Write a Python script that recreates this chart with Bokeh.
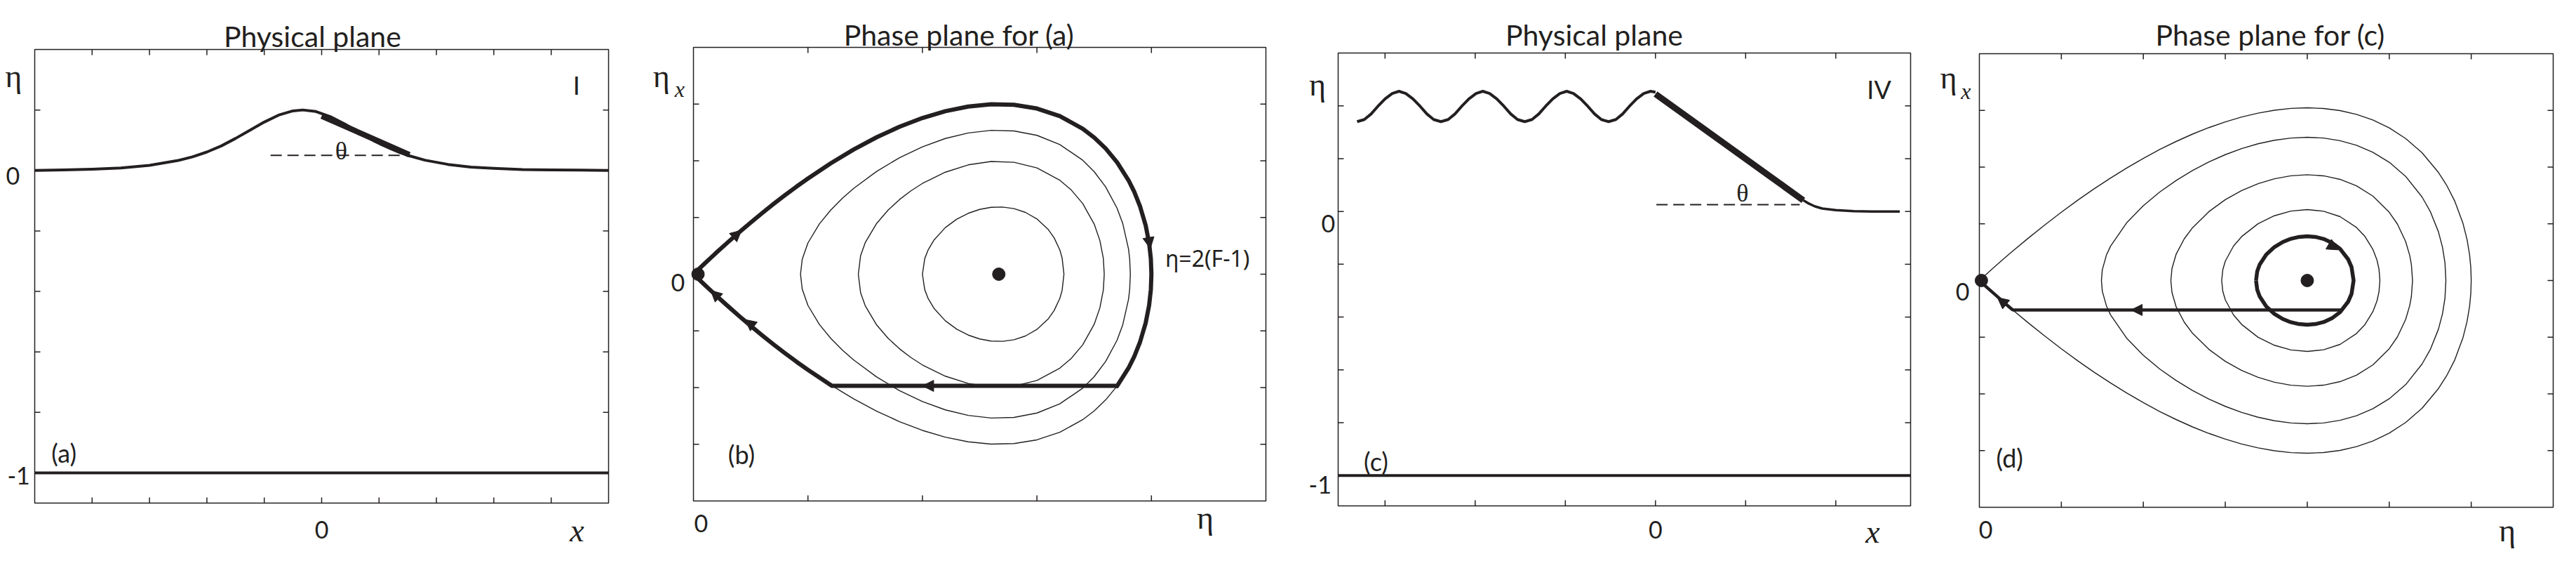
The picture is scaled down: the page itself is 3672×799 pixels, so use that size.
from bokeh.plotting import figure
from bokeh.layouts import row
from bokeh.models import Label, Arrow, NormalHead, Range1d
from bokeh.embed import file_html
from bokeh.resources import INLINE

INK = "#231f20"
SANS = "Lato"
SERIF = "Liberation Serif"

# ---------------- data ----------------
# (a) solitary wave in the physical plane
wave_a_x = [-5.0, -4.5, -4.0, -3.5, -3.0, -2.5, -2.25, -2.0, -1.75, -1.5, -1.25, -1.0, -0.75, -0.5,
            -0.33, -0.1, 0.15, 0.4, 0.65, 0.9, 1.05, 1.2, 1.35, 1.5, 1.8, 2.2, 2.6, 3.0, 3.5, 4.0, 4.5, 5.0]
wave_a_y = [0.0, 0.002, 0.004, 0.008, 0.017, 0.033, 0.045, 0.061, 0.081, 0.106, 0.133, 0.160, 0.183, 0.197,
            0.200, 0.195, 0.178, 0.154, 0.126, 0.099, 0.085, 0.072, 0.060, 0.050, 0.034, 0.020, 0.011, 0.007,
            0.003, 0.002, 0.001, 0.0]
slope_a_x = [0.0, 1.53]
slope_a_y = [0.180, 0.052]
level_a_x = [-0.89, 1.53]
level_a_y = [0.05, 0.05]
bed_a_x = [-5.0, 5.0]
bed_a_y = [-1.0, -1.0]

# (c) undular bore in the physical plane
wave_c_x = [-3.31, -3.23, -3.155, -3.08, -3.0, -2.92, -2.845, -2.77, -2.69, -2.61, -2.535, -2.46,
            -2.38, -2.30, -2.225, -2.15, -2.07, -1.99, -1.915, -1.84, -1.76, -1.68, -1.605, -1.53,
            -1.45, -1.37, -1.295, -1.22, -1.14, -1.06, -0.985, -0.91, -0.83, -0.75, -0.675, -0.60,
            -0.52, -0.44, -0.365, -0.29, -0.21, -0.13, -0.055, 0.0]
wave_c_y = [0.340, 0.348, 0.369, 0.398, 0.426, 0.447, 0.455, 0.447, 0.426, 0.398, 0.369, 0.348,
            0.340, 0.348, 0.369, 0.398, 0.426, 0.447, 0.455, 0.447, 0.426, 0.398, 0.369, 0.348,
            0.340, 0.348, 0.369, 0.398, 0.426, 0.447, 0.455, 0.447, 0.426, 0.398, 0.369, 0.348,
            0.340, 0.348, 0.369, 0.398, 0.426, 0.447, 0.455, 0.452]
slope_c_x = [0.0, 1.64]
slope_c_y = [0.445, 0.042]
front_c_x = [1.64, 1.70, 1.77, 1.85, 2.0, 2.2, 2.4, 2.71]
front_c_y = [0.042, 0.030, 0.019, 0.011, 0.005, 0.001, 0.0, 0.0]
level_c_x = [0.01, 1.60]
level_c_y = [0.026, 0.026]
bed_c_x = [-3.52, 2.83]
bed_c_y = [-1.0, -1.0]

# (b) phase plane for (a): upper halves of the orbits (eta, eta_x >= 0)
sep_b_x = [0.0, 0.1, 0.2, 0.3, 0.4, 0.5, 0.6, 0.7, 0.8, 0.9, 1.0, 1.2, 1.4, 1.6, 1.8, 2.0, 2.2, 2.4,
           2.6, 2.8, 3.0, 3.2, 3.4, 3.5, 3.6, 3.7, 3.8, 3.85, 3.9, 3.95, 3.98, 3.995, 4.0]
sep_b_y = [0.0, 0.192, 0.380, 0.562, 0.739, 0.911, 1.078, 1.239, 1.394, 1.544, 1.687, 1.956, 2.199,
           2.415, 2.601, 2.755, 2.875, 2.957, 2.997, 2.988, 2.922, 2.788, 2.566, 2.411, 2.218, 1.974,
           1.656, 1.453, 1.201, 0.860, 0.548, 0.275, 0.0]
orb_b1_x = [2.0, 2.02, 2.05, 2.1, 2.2, 2.3, 2.4, 2.5, 2.6, 2.7, 2.8, 2.9, 3.0, 3.1, 3.15, 3.2, 3.22, 3.236]
orb_b1_y = [0.0, 0.274, 0.430, 0.600, 0.822, 0.971, 1.074, 1.142, 1.179, 1.184, 1.156, 1.090, 0.974,
            0.785, 0.642, 0.427, 0.287, 0.0]
orb_b2_x = [1.44, 1.46, 1.5, 1.6, 1.7, 1.8, 1.9, 2.0, 2.2, 2.4, 2.6, 2.8, 3.0, 3.2, 3.3, 3.4, 3.5,
            3.55, 3.58, 3.588]
orb_b2_y = [0.0, 0.329, 0.555, 0.895, 1.131, 1.317, 1.471, 1.601, 1.799, 1.928, 1.988, 1.974, 1.874,
            1.657, 1.485, 1.246, 0.885, 0.593, 0.281, 0.0]
orb_b3_x = [0.935, 0.95, 1.0, 1.1, 1.2, 1.3, 1.4, 1.6, 1.8, 2.0, 2.2, 2.4, 2.6, 2.8, 3.0, 3.2, 3.4,
            3.5, 3.6, 3.7, 3.75, 3.8, 3.81, 3.816]
orb_b3_y = [0.0, 0.263, 0.551, 0.887, 1.133, 1.337, 1.514, 1.813, 2.055, 2.247, 2.393, 2.491, 2.537,
            2.527, 2.449, 2.287, 2.010, 1.808, 1.541, 1.164, 0.891, 0.444, 0.272, 0.0]
jump_b_x = [3.70, 1.21]
jump_b_y = [-1.97, -1.97]
fixed_b_x = [0.04, 2.667]
fixed_b_y = [0.0, 0.0]
arrow_b_x0 = [0.30, 3.970, 2.20, 0.25, 0.55]
arrow_b_y0 = [0.562, 0.70, -1.97, -0.47, -0.96]
arrow_b_x1 = [0.42, 3.990, 2.00, 0.15, 0.45]
arrow_b_y1 = [0.775, 0.45, -1.97, -0.285, -0.80]

# (d) phase plane for (c): upper halves of the orbits
sep_d_x = [0.0, 0.1, 0.2, 0.3, 0.4, 0.6, 0.8, 1.0, 1.2, 1.4, 1.6, 1.8, 2.0, 2.2, 2.4, 2.6, 2.8, 3.0,
           3.2, 3.4, 3.6, 3.8, 4.0, 4.2, 4.4, 4.6, 4.8, 5.0, 5.2, 5.4, 5.6, 5.7, 5.8, 5.9, 5.95, 5.98,
           5.995, 6.0]
sep_d_y = [0.0, 0.131, 0.259, 0.386, 0.510, 0.751, 0.982, 1.204, 1.416, 1.617, 1.807, 1.987, 2.154,
           2.310, 2.452, 2.582, 2.697, 2.798, 2.884, 2.952, 3.003, 3.035, 3.046, 3.034, 2.997, 2.931,
           2.832, 2.693, 2.505, 2.253, 1.907, 1.681, 1.397, 1.005, 0.717, 0.455, 0.228, 0.0]
orb_d1_x = [1.489, 1.5, 1.55, 1.6, 1.8, 2.0, 2.2, 2.4, 2.6, 2.8, 3.0, 3.2, 3.4, 3.6, 3.8, 4.0, 4.2,
            4.4, 4.6, 4.8, 5.0, 5.2, 5.4, 5.5, 5.6, 5.65, 5.68, 5.691]
orb_d1_y = [0.0, 0.190, 0.448, 0.605, 1.023, 1.319, 1.560, 1.764, 1.940, 2.092, 2.220, 2.327, 2.412,
            2.474, 2.513, 2.526, 2.512, 2.466, 2.386, 2.262, 2.086, 1.837, 1.474, 1.219, 0.859, 0.583,
            0.307, 0.0]
orb_d2_x = [2.336, 2.35, 2.4, 2.5, 2.6, 2.8, 3.0, 3.2, 3.4, 3.6, 3.8, 4.0, 4.2, 4.4, 4.6, 4.8, 5.0,
            5.1, 5.2, 5.25, 5.27, 5.284]
orb_d2_y = [0.0, 0.213, 0.462, 0.737, 0.930, 1.215, 1.425, 1.586, 1.708, 1.794, 1.847, 1.865, 1.846,
            1.784, 1.671, 1.489, 1.204, 0.994, 0.688, 0.441, 0.281, 0.0]
orb_d3_x = [2.956, 2.97, 3.0, 3.1, 3.2, 3.4, 3.6, 3.8, 4.0, 4.2, 4.4, 4.6, 4.7, 4.8, 4.85, 4.875, 4.886]
orb_d3_y = [0.0, 0.192, 0.341, 0.607, 0.775, 1.001, 1.143, 1.224, 1.251, 1.222, 1.127, 0.936, 0.784,
            0.551, 0.362, 0.199, 0.0]
loop_d_x = [3.375, 3.39, 3.42, 3.5, 3.6, 3.7, 3.8, 3.9, 4.0, 4.1, 4.2, 4.3, 4.4, 4.5, 4.54, 4.565]
loop_d_y = [0.0, 0.165, 0.283, 0.459, 0.591, 0.678, 0.736, 0.769, 0.780, 0.769, 0.733, 0.667, 0.559,
            0.371, 0.237, 0.0]
jump_d_x = [4.42, 0.41]
jump_d_y = [-0.52, -0.52]
fixed_d_x = [0.025, 4.0]
fixed_d_y = [0.0, 0.0]
arrow_d_x0 = [4.25, 2.05, 0.34]
arrow_d_y0 = [0.65, -0.52, -0.44]
arrow_d_x1 = [4.38, 1.85, 0.22]
arrow_d_y1 = [0.54, -0.52, -0.30]

# axis extents and tick positions
range_a = ((-5.0, 5.0), (-1.1, 0.4))
range_b = ((0.0, 5.0), (-4.0, 4.0))
range_c = ((-3.52, 2.83), (-1.115, 0.60))
range_d = ((0.0, 7.0), (-4.0, 4.0))
ticks_a_x = [-4, -3, -2, -1, 0, 1, 2, 3, 4]
ticks_a_y = [-1.0, -0.8, -0.6, -0.4, -0.2, 0.0, 0.2]
ticks_c_x = [-3, -2, -1, 0, 1, 2]
ticks_c_y = [-1.0, -0.8, -0.6, -0.4, -0.2, 0.0, 0.2, 0.4]
ticks_b_x = [1, 2, 3, 4]
ticks_d_x = [1, 2, 3, 4, 5, 6]
ticks_ph_y = [-3, -2, -1, 0, 1, 2, 3]

TICK_PX = 8


# ---------------- helpers ----------------
def closed(xs, ys):
    return xs + xs[::-1], ys + [-v for v in ys[::-1]]


def base_fig(rng, fw, fh, bl, br, bt, bb, xticks, yticks):
    (x0, x1), (y0, y1) = rng
    ux = fw / (x1 - x0)
    uy = fh / (y1 - y0)
    W, H = fw + bl + br, fh + bt + bb
    p = figure(x_range=Range1d(x0 - bl / ux, x1 + br / ux),
               y_range=Range1d(y0 - bb / uy, y1 + bt / uy),
               frame_width=W, frame_height=H,
               min_border_left=0, min_border_right=0, min_border_top=0, min_border_bottom=0,
               x_axis_location=None, y_axis_location=None,
               output_backend="svg", toolbar_location=None)
    p.grid.visible = False
    p.outline_line_color = None
    p.background_fill_color = "white"
    p.border_fill_color = "white"
    # plot box
    p.quad(left=[x0], right=[x1], bottom=[y0], top=[y1], fill_color=None,
           line_color=INK, line_width=1.5)
    # inward ticks on all four sides
    tx = TICK_PX / ux
    ty = TICK_PX / uy
    n = len(xticks)
    p.segment(x0=xticks, y0=[y0] * n, x1=xticks, y1=[y0 + ty] * n, line_color=INK, line_width=1.5)
    p.segment(x0=xticks, y0=[y1] * n, x1=xticks, y1=[y1 - ty] * n, line_color=INK, line_width=1.5)
    m = len(yticks)
    p.segment(x0=[x0] * m, y0=yticks, x1=[x0 + tx] * m, y1=yticks, line_color=INK, line_width=1.5)
    p.segment(x0=[x1] * m, y0=yticks, x1=[x1 - tx] * m, y1=yticks, line_color=INK, line_width=1.5)
    return p


def txt(p, x, y, text, size, font=SANS, style="normal", align="center"):
    p.add_layout(Label(x=x, y=y, text=text, text_font=font, text_font_size=f"{size}px",
                       text_font_style=style, text_align=align, text_baseline="alphabetic",
                       text_color=INK))


def arrows(p, x0, y0, x1, y1):
    for a, b, c, d in zip(x0, y0, x1, y1):
        p.add_layout(Arrow(end=NormalHead(size=16, fill_color=INK, line_color=INK, line_width=1),
                           x_start=a, y_start=b, x_end=c, y_end=d, line_alpha=0.0))


THIN = 1.4
TITLE = 41

# ---------------- (a) ----------------
pa = base_fig(range_a, 818, 646, 49, 50, 70, 67, ticks_a_x, ticks_a_y)
pa.line(bed_a_x, bed_a_y, line_color=INK, line_width=4)
pa.line(wave_a_x, wave_a_y, line_color=INK, line_width=4, line_join="round")
pa.line(slope_a_x, slope_a_y, line_color=INK, line_width=8)
pa.line(level_a_x, level_a_y, line_color=INK, line_width=2, line_dash="16 8")
txt(pa, -0.16, 0.443, "Physical plane", TITLE)
txt(pa, -5.37, 0.311, "η", 46, font=SERIF)
txt(pa, 4.45, -1.19, "x", 46, font=SERIF, style="italic")
txt(pa, -4.49, -0.935, "(a)", 36)
txt(pa, 4.44, 0.283, "I", 36)
txt(pa, 0.34, 0.065, "θ", 36, font=SERIF)
txt(pa, -5.38, -0.019, "0", 34)
txt(pa, -5.28, -1.009, "-1", 34)
txt(pa, 0.0, -1.188, "0", 34)

# ---------------- (b) ----------------
pb = base_fig(range_b, 816, 646, 71, 50, 67, 70, ticks_b_x, ticks_ph_y)
for xs, ys in ((sep_b_x, sep_b_y), (orb_b1_x, orb_b1_y), (orb_b2_x, orb_b2_y), (orb_b3_x, orb_b3_y)):
    cx, cy = closed(xs, ys)
    pb.line(cx, cy, line_color=INK, line_width=THIN)
# travelled path: upper separatrix, lower-right branch, jump, lower-left branch back to the saddle
tr_x = list(sep_b_x)
tr_y = list(sep_b_y)
for x, y in zip(sep_b_x[::-1][1:], sep_b_y[::-1][1:]):
    if x >= jump_b_x[0]:
        tr_x.append(x)
        tr_y.append(-y)
tr_x += jump_b_x
tr_y += jump_b_y
for x, y in zip(sep_b_x[::-1], sep_b_y[::-1]):
    if x <= jump_b_x[1]:
        tr_x.append(x)
        tr_y.append(-y)
pb.line(tr_x, tr_y, line_color=INK, line_width=6, line_join="round")
pb.scatter(fixed_b_x, fixed_b_y, size=18, color=INK)
arrows(pb, arrow_b_x0, arrow_b_y0, arrow_b_x1, arrow_b_y1)
txt(pb, 2.32, 4.22, "Phase plane for (a)", TITLE)
txt(pb, -0.28, 3.49, "η", 46, font=SERIF)
txt(pb, -0.12, 3.26, "x", 32, font=SERIF, style="italic")
txt(pb, 4.47, -4.30, "η", 46, font=SERIF)
txt(pb, 0.42, -3.18, "(b)", 36)
txt(pb, 4.12, 0.285, "η=2(F-1)", 32, font="Noto Sans", align="left")
txt(pb, -0.135, -0.15, "0", 34)
txt(pb, 0.067, -4.40, "0", 34)

# ---------------- (c) ----------------
pc = base_fig(range_c, 816, 645, 53, 35, 75, 63, ticks_c_x, ticks_c_y)
pc.line(bed_c_x, bed_c_y, line_color=INK, line_width=4)
pc.line(wave_c_x, wave_c_y, line_color=INK, line_width=4, line_join="round")
pc.line(front_c_x, front_c_y, line_color=INK, line_width=3.5, line_join="round")
pc.line(slope_c_x, slope_c_y, line_color=INK, line_width=9)
pc.line(level_c_x, level_c_y, line_color=INK, line_width=2, line_dash="16 8")
txt(pc, -0.68, 0.668, "Physical plane", TITLE)
txt(pc, -3.75, 0.481, "η", 46, font=SERIF)
txt(pc, 2.41, -1.213, "x", 46, font=SERIF, style="italic")
txt(pc, -3.10, -0.945, "(c)", 36)
txt(pc, 2.48, 0.463, "IV", 36)
txt(pc, 0.965, 0.069, "θ", 36, font=SERIF)
txt(pc, -3.63, -0.045, "0", 34)
txt(pc, -3.72, -1.035, "-1", 34)
txt(pc, 0.0, -1.205, "0", 34)

# ---------------- (d) ----------------
pd_ = base_fig(range_d, 818, 646, 63, 17, 76, 61, ticks_d_x, ticks_ph_y)
for xs, ys in ((sep_d_x, sep_d_y), (orb_d1_x, orb_d1_y), (orb_d2_x, orb_d2_y), (orb_d3_x, orb_d3_y)):
    cx, cy = closed(xs, ys)
    pd_.line(cx, cy, line_color=INK, line_width=THIN)
lx, ly = closed(loop_d_x, loop_d_y)
pd_.line(lx, ly, line_color=INK, line_width=5.5, line_join="round")
ex_x = list(jump_d_x)
ex_y = list(jump_d_y)
for x, y in zip(sep_d_x[::-1], sep_d_y[::-1]):
    if x <= jump_d_x[1]:
        ex_x.append(x)
        ex_y.append(-y)
pd_.line(ex_x, ex_y, line_color=INK, line_width=4.5, line_join="round")
pd_.scatter(fixed_d_x, fixed_d_y, size=18, color=INK)
arrows(pd_, arrow_d_x0, arrow_d_y0, arrow_d_x1, arrow_d_y1)
txt(pd_, 3.55, 4.33, "Phase plane for (c)", TITLE)
txt(pd_, -0.376, 3.58, "η", 46, font=SERIF)
txt(pd_, -0.163, 3.34, "x", 32, font=SERIF, style="italic")
txt(pd_, 6.44, -4.41, "η", 46, font=SERIF)
txt(pd_, 0.37, -3.13, "(d)", 36)
txt(pd_, -0.205, -0.20, "0", 34)
txt(pd_, 0.077, -4.40, "0", 34)

layout = row(pa, pb, pc, pd_)
open("out.html", "w").write(file_html(layout, INLINE))
